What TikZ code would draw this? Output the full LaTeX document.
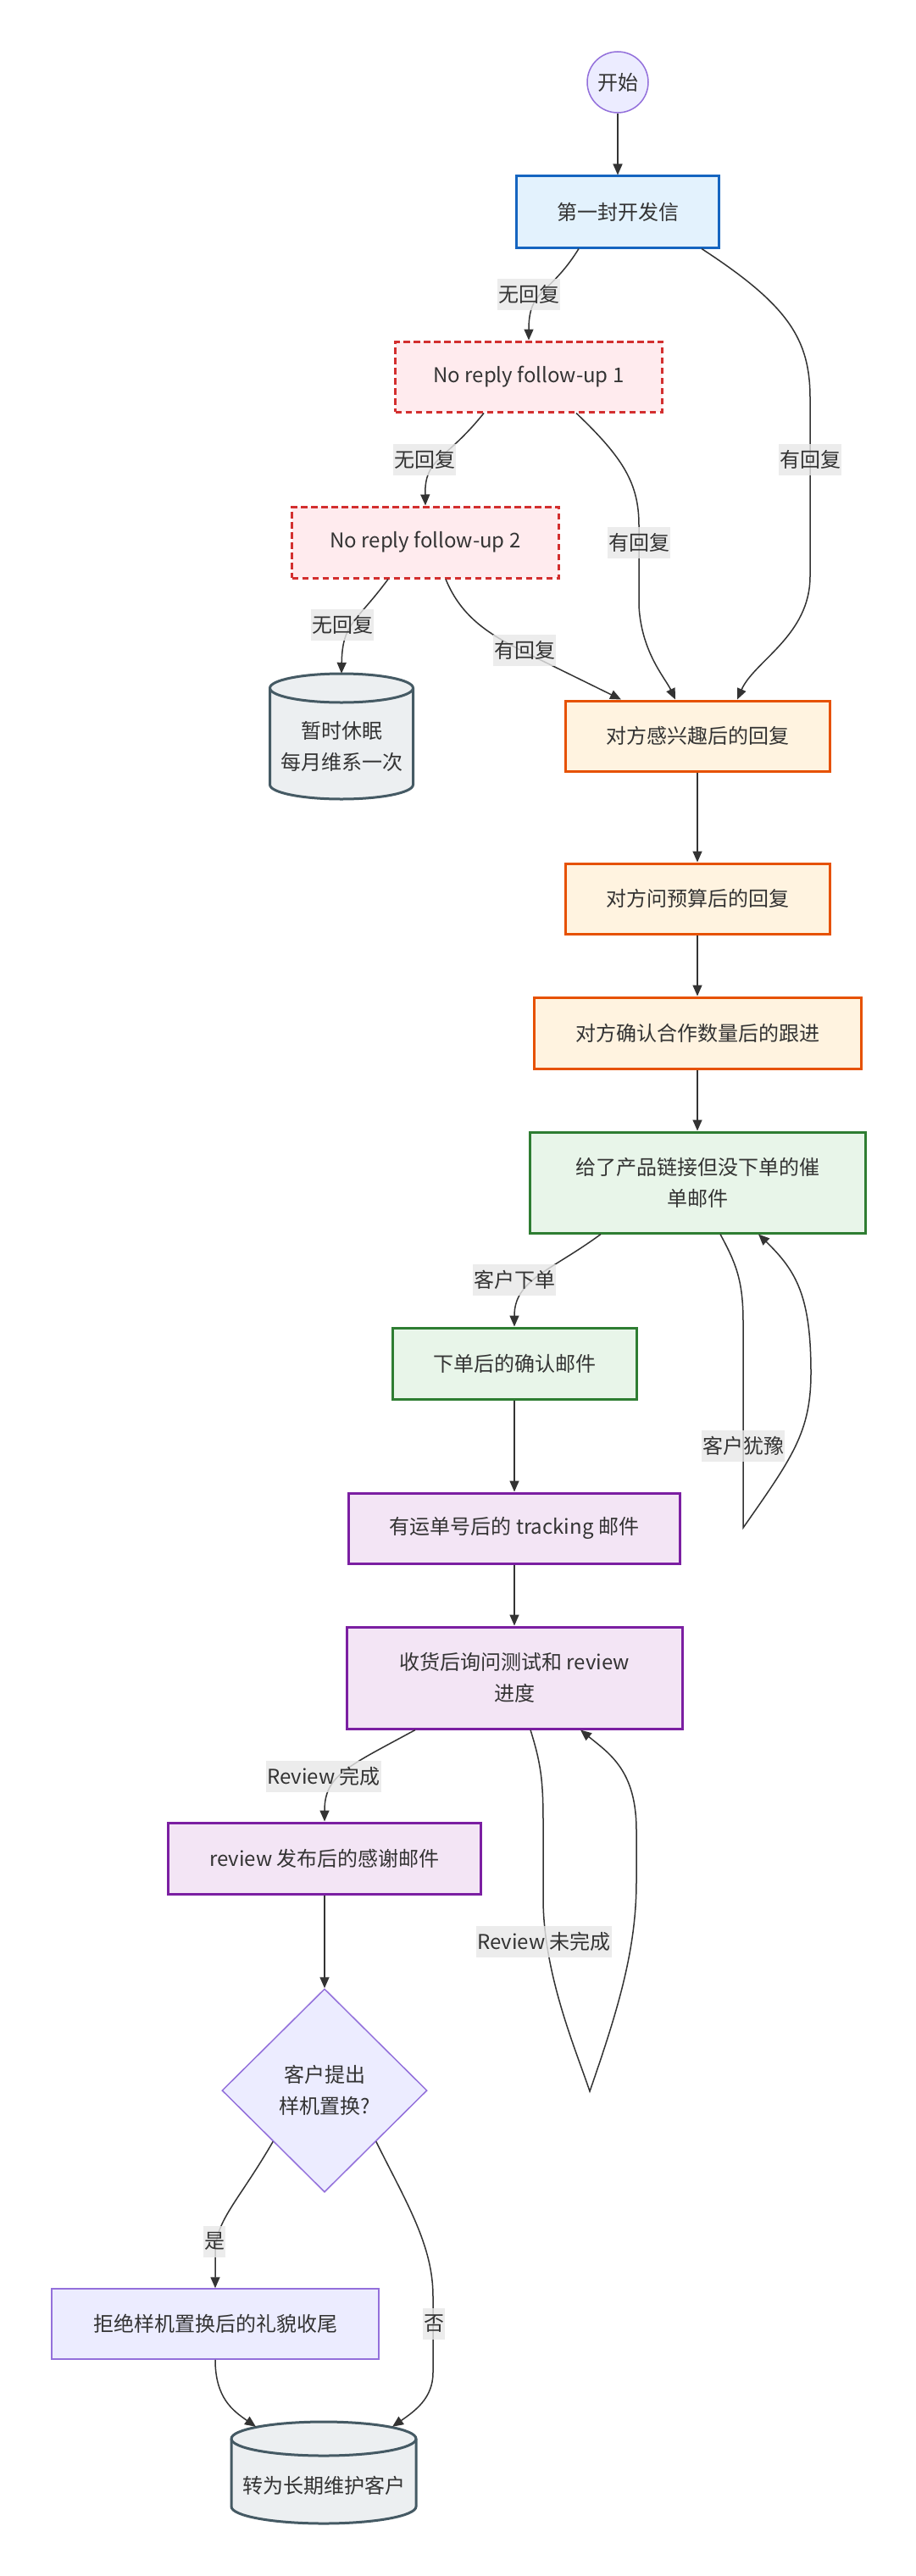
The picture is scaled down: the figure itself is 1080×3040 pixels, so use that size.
\documentclass[tikz,border=0pt]{standalone}
\usepackage{fontspec}
\setmainfont{Noto Sans CJK SC}
\usetikzlibrary{shapes.geometric,arrows.meta}
\definecolor{txt}{HTML}{333333}
\definecolor{labbg}{HTML}{E8E8E8}
\definecolor{bluf}{HTML}{E3F2FD}\definecolor{blud}{HTML}{1565C0}
\definecolor{redf}{HTML}{FFEBEE}\definecolor{redd}{HTML}{D32F2F}
\definecolor{orf}{HTML}{FFF3E0}\definecolor{ord}{HTML}{E65100}
\definecolor{grf}{HTML}{E8F5E9}\definecolor{grd}{HTML}{2E7D32}
\definecolor{puf}{HTML}{F3E5F5}\definecolor{pud}{HTML}{7B1FA2}
\definecolor{cyf}{HTML}{ECEFF1}\definecolor{cyd}{HTML}{455A64}
\definecolor{deff}{HTML}{ECECFF}\definecolor{defd}{HTML}{9370DB}
\tikzset{
  base/.style={rectangle, inner sep=0pt, text=txt, align=center, font=\fontsize{24pt}{37pt}\selectfont},
  bluebox/.style={base, fill=bluf, draw=blud, line width=3pt},
  redbox/.style={base, fill=redf, draw=redd, line width=3pt, dash pattern=on 7.5pt off 4.5pt},
  orbox/.style={base, fill=orf, draw=ord, line width=3pt},
  grbox/.style={base, fill=grf, draw=grd, line width=3pt},
  pubox/.style={base, fill=puf, draw=pud, line width=3pt},
  defbox/.style={base, fill=deff, draw=defd, line width=1.5pt},
  cylline/.style={fill=cyf, draw=cyd, line width=3pt},
  cyltext/.style={base},
  decision/.style={base, diamond, aspect=1, fill=deff, draw=defd, line width=1.5pt},
  startnode/.style={base, circle, fill=deff, draw=defd, line width=1.5pt, minimum size=72pt},
  elab/.style={fill=labbg, fill opacity=0.8, text opacity=1, text=txt, inner xsep=1pt, inner ysep=0pt, minimum height=37pt, font=\fontsize{24pt}{30pt}\selectfont},
  flow/.style={draw=txt, line width=1.5pt, -{Triangle[length=13pt,width=11pt]}},
}
\newcommand{\drawcyl}[5]{%
  \path[cylline] (#1-#3,#2-#4+#5) -- (#1-#3,#2+#4-#5) arc[start angle=180,end angle=360,x radius=#3pt,y radius=#5pt] -- (#1+#3,#2-#4+#5) arc[start angle=0,end angle=180,x radius=#3pt,y radius=#5pt] -- cycle;
  \draw[cylline, fill=none] (#1-#3,#2-#4+#5) arc[start angle=180,end angle=360,x radius=#3pt,y radius=#5pt];
}
\begin{document}
\begin{tikzpicture}[x=1pt,y=-1pt]
\useasboundingbox (0,0) rectangle (1080,3040);
\fill[white] (0,0) rectangle (1080,3040);

% nodes
\node[startnode] (start) at (729,97) {开始};
\node[bluebox, minimum width=239pt, minimum height=84pt] (first) at (729,250) {第一封开发信};
\node[redbox, minimum width=315pt, minimum height=83pt] (nr1) at (624,444.5) {No reply follow-up 1};
\node[redbox, minimum width=315pt, minimum height=84pt] (nr2) at (502,640) {No reply follow-up 2};
\drawcyl{403}{869}{84.5}{74}{17}
\node[cyltext, minimum width=169pt, minimum height=148pt] (sleep) at (403,869) {\raisebox{-14pt}[\height][\depth]{\begin{tabular}{@{}c@{}}暂时休眠\\每月维系一次\end{tabular}}};
\node[orbox, minimum width=312pt, minimum height=83pt] (interest) at (823,868.5) {对方感兴趣后的回复};
\node[orbox, minimum width=312pt, minimum height=83pt] (budget) at (823,1060.5) {对方问预算后的回复};
\node[orbox, minimum width=386pt, minimum height=84pt] (qty) at (823,1219) {对方确认合作数量后的跟进};
\node[grbox, minimum width=396pt, minimum height=119pt] (link) at (823,1395.5) {给了产品链接但没下单的催\\单邮件};
\node[grbox, minimum width=288pt, minimum height=84pt] (confirm) at (607,1609) {下单后的确认邮件};
\node[pubox, minimum width=391pt, minimum height=83pt] (track) at (607,1803.5) {有运单号后的 tracking 邮件};
\node[pubox, minimum width=396pt, minimum height=120pt] (recv) at (607,1980) {收货后询问测试和 review\\进度};
\node[pubox, minimum width=369pt, minimum height=84pt] (thanks) at (383,2193) {review 发布后的感谢邮件};
\node[decision, minimum width=242pt, minimum height=240pt] (dec) at (383,2467) {客户提出\\样机置换?};
\node[defbox, minimum width=386pt, minimum height=83pt] (refuse) at (254,2742.5) {拒绝样机置换后的礼貌收尾};
\drawcyl{382}{2918}{109}{60}{20}
\node[cyltext, minimum width=218pt, minimum height=120pt] (keep) at (382,2918) {\raisebox{-15pt}[\height][\depth]{转为长期维护客户}};

% edges
\draw[flow] (start) -- (first);
\draw[flow] ([xshift=-46pt]first.south) .. controls (648,350) and (624,340) .. (nr1.north);
\draw[flow] ([xshift=99pt]first.south) .. controls (930,360) and (956,400) .. (956,470) -- (956,680) .. controls (956,750) and (890,780) .. ([xshift=47pt]interest.north);
\draw[flow] ([xshift=-53pt]nr1.south) .. controls (525,545) and (501,540) .. (nr2.north);
\draw[flow] ([xshift=56pt]nr1.south) .. controls (735,540) and (754,570) .. (754,620) -- (754,715) .. controls (757,770) and (785,800) .. ([xshift=-26pt]interest.north);
\draw[flow] ([xshift=-44pt]nr2.south) .. controls (420,735) and (404,735) .. (sleep.north);
\draw[flow] ([xshift=24pt]nr2.south) .. controls (545,730) and (580,750) .. (620,770) -- ([xshift=-90pt]interest.north);
\draw[flow] (interest) -- (budget);
\draw[flow] (budget) -- (qty);
\draw[flow] (qty) -- (link);
\draw[flow] ([xshift=-114pt]link.south) .. controls (650,1500) and (607,1510) .. (confirm.north);
\draw[flow] ([xshift=27pt]link.south) .. controls (868,1490) and (877,1510) .. (877,1560) -- (877,1803) .. controls (935,1720) and (957,1690) .. (957,1620) .. controls (957,1530) and (940,1500) .. ([xshift=72pt]link.south);
\draw[flow] (confirm) -- (track);
\draw[flow] (track) -- (recv);
\draw[flow] ([xshift=-117pt]recv.south) .. controls (410,2085) and (383,2095) .. (thanks.north);
\draw[flow] ([xshift=19pt]recv.south) .. controls (638,2080) and (641,2100) .. (641,2150) -- (641,2240) .. controls (641,2330) and (680,2420) .. (696,2468) .. controls (730,2370) and (751,2300) .. (751,2220) -- (751,2160) .. controls (751,2090) and (720,2070) .. ([xshift=78pt]recv.south);
\draw[flow] (thanks) -- (dec);
\draw[flow] (dec.south west) .. controls (280,2600) and (254,2620) .. (254,2660) -- (refuse.north);
\draw[flow] (dec.south east) .. controls (480,2600) and (511,2650) .. (511,2710) -- (511,2800) .. controls (511,2830) and (490,2845) .. ([xshift=81pt,yshift=-6pt]keep.north);
\draw[flow] (refuse.south) .. controls (254,2830) and (275,2845) .. ([xshift=-80pt,yshift=-6pt]keep.north);

% edge labels
\node[elab] (l1) at (624,347) {无回复};
\node[elab] (l2) at (956,542) {有回复};
\node[elab] (l3) at (501,542) {无回复};
\node[elab] (l4) at (754,640) {有回复};
\node[elab] (l5) at (404,737) {无回复};
\node[elab] (l6) at (619,767) {有回复};
\node[elab] (l7) at (607,1510) {客户下单};
\node[elab] (l8) at (877,1706) {客户犹豫};
\node[elab] (l9) at (382,2096) {Review 完成};
\node[elab] (l10) at (642,2291) {Review 未完成};
\node[elab] (l11) at (253,2645) {是};
\node[elab] (l12) at (512,2742) {否};
\end{tikzpicture}
\end{document}
